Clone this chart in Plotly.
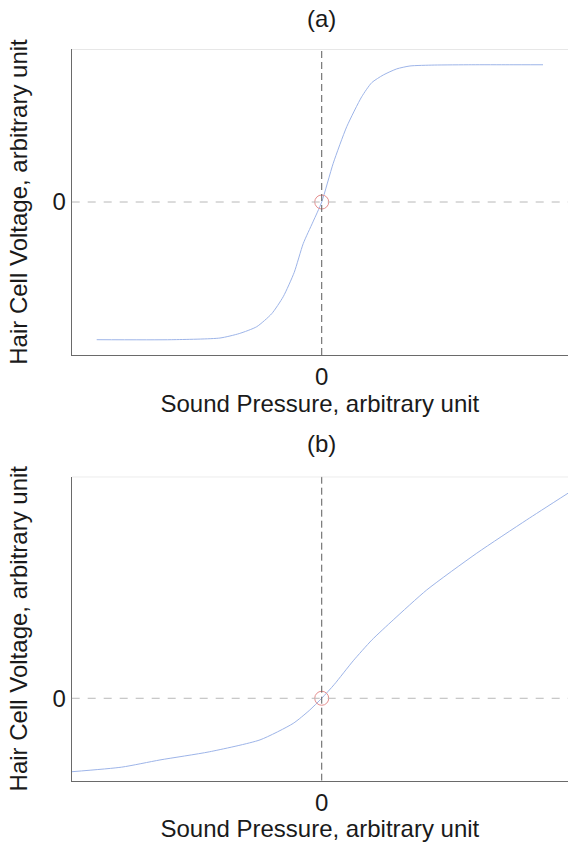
import plotly.graph_objects as go

# Panel (a): saturating (steep) transducer curve
pressure_a = [-0.9, -0.6, -0.407, -0.33, -0.26, -0.2, -0.154, -0.11, -0.074, -0.035, 0.0,
              0.046, 0.1, 0.16, 0.2, 0.246, 0.3, 0.353, 0.45, 0.6, 0.75, 0.885]
voltage_a = [-0.90, -0.90, -0.889, -0.86, -0.815, -0.73, -0.619, -0.46, -0.272, -0.13, 0.0,
             0.253, 0.492, 0.688, 0.78, 0.83, 0.87, 0.889, 0.895, 0.897, 0.897, 0.897]

# Panel (b): shallower, asymmetric transducer curve
pressure_b = [-1.0, -0.8, -0.647, -0.45, -0.247, -0.114, -0.05, 0.0, 0.05, 0.126, 0.2, 0.286,
              0.42, 0.62, 0.82, 0.985]
voltage_b = [-0.48, -0.45, -0.403, -0.35, -0.272, -0.164, -0.08, 0.0, 0.09, 0.245, 0.38, 0.512,
             0.708, 0.948, 1.166, 1.34]

panel_titles = ["(a)", "(b)"]
x_title = "Sound Pressure, arbitrary unit"
y_title = "Hair Cell Voltage, arbitrary unit"

W, H = 568, 848
FONT = "Liberation Sans, Arial, sans-serif"

def py(p):
    return 1 - p / H

x_dom = [71.7 / W, 1.0]
y_dom_a = [py(355), py(49)]
y_dom_b = [py(780.7), py(476.7)]
x_range = [-1.0, 0.985]
y_range_a = [-1.0, 1.0]
y_range_b = [-0.5386, 1.448]

curve_color = "#9db4e8"
ring_color = "#e58e8e"
fig = go.Figure()

fig.add_trace(go.Scatter(x=pressure_a, y=voltage_a, mode="lines", xaxis="x", yaxis="y",
                         line=dict(color=curve_color, width=1, shape="spline", smoothing=0.6),
                         showlegend=False))
fig.add_trace(go.Scatter(x=[0], y=[0], mode="markers", xaxis="x", yaxis="y",
                         marker=dict(symbol="circle-open", size=14, color=ring_color, line=dict(width=1)),
                         showlegend=False))
fig.add_trace(go.Scatter(x=pressure_b, y=voltage_b, mode="lines", xaxis="x2", yaxis="y2",
                         line=dict(color=curve_color, width=1, shape="spline", smoothing=0.6),
                         showlegend=False))
fig.add_trace(go.Scatter(x=[0], y=[0], mode="markers", xaxis="x2", yaxis="y2",
                         marker=dict(symbol="circle-open", size=14, color=ring_color, line=dict(width=1)),
                         showlegend=False))

axis_font = dict(family=FONT, size=24, color="#1a1a1a")

def xaxis(dom, anchor):
    return dict(domain=dom, range=x_range, anchor=anchor, showgrid=False, zeroline=False,
                showline=True, linecolor="#6a6a6a", linewidth=1, ticks="",
                tickvals=[0], ticktext=["0"], tickfont=axis_font,
                title=dict(text=x_title, font=axis_font, standoff=2))

def yaxis(dom, rng, anchor):
    return dict(domain=dom, range=rng, anchor=anchor, showgrid=False, zeroline=False,
                showline=True, linecolor="#6a6a6a", linewidth=1, ticks="",
                tickvals=[0], ticktext=["0"], tickfont=axis_font,
                title=dict(text=y_title, font=axis_font, standoff=18))

shapes = []
for xr, yr, rng in [("x", "y", y_range_a), ("x2", "y2", y_range_b)]:
    # vertical dashed line at x=0
    shapes.append(dict(type="line", xref=xr, yref=yr, x0=0, x1=0, y0=rng[0], y1=rng[1],
                       line=dict(color="#5a5a5a", width=1, dash="7px,4px")))
    # horizontal dashed line at y=0
    shapes.append(dict(type="line", xref=xr, yref=yr, x0=x_range[0], x1=x_range[1], y0=0, y1=0,
                       line=dict(color="#b8b8b8", width=1, dash="8px,8px")))
    # top border
    shapes.append(dict(type="line", xref=xr, yref=yr, x0=x_range[0], x1=x_range[1], y0=rng[1], y1=rng[1],
                       line=dict(color="#cfcfcf", width=1)))

annotations = [
    dict(text=panel_titles[0], x=321.7 / W, y=py(18), xref="paper", yref="paper",
         showarrow=False, font=axis_font, xanchor="center", yanchor="middle"),
    dict(text=panel_titles[1], x=321.7 / W, y=py(443), xref="paper", yref="paper",
         showarrow=False, font=axis_font, xanchor="center", yanchor="middle"),
]

fig.update_layout(
    width=W, height=H, margin=dict(l=0, r=0, t=0, b=0),
    paper_bgcolor="white", plot_bgcolor="white",
    xaxis=xaxis(x_dom, "y"), yaxis=yaxis(y_dom_a, y_range_a, "x"),
    xaxis2=xaxis(x_dom, "y2"), yaxis2=yaxis(y_dom_b, y_range_b, "x2"),
    shapes=shapes, annotations=annotations, font=dict(family=FONT),
)

fig.write_html("out.html")
